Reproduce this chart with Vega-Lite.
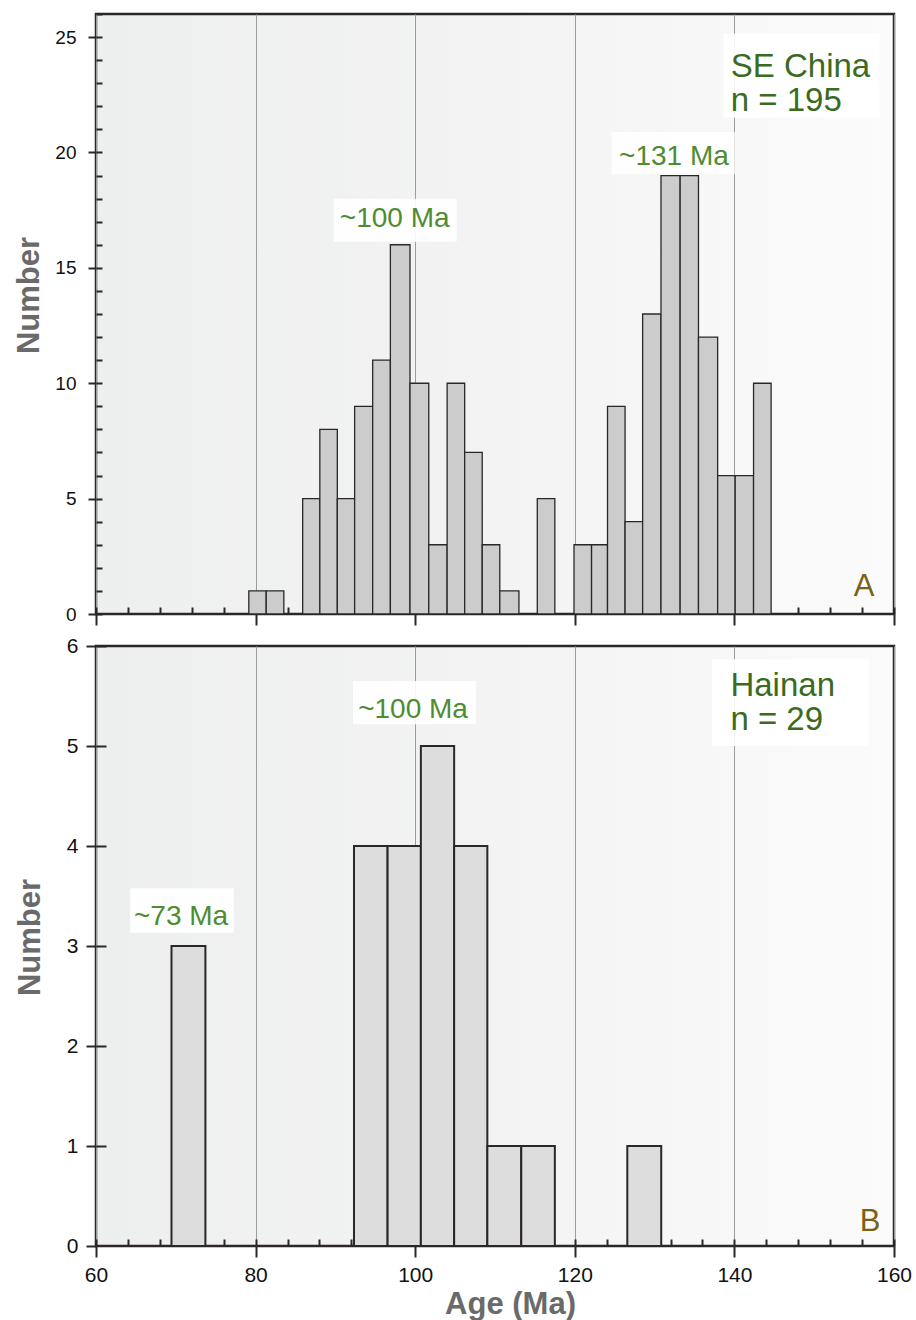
{
  "$schema": "https://vega.github.io/schema/vega-lite/v6.json",
  "background": "white",
  "padding": {"left": 12, "top": 11, "right": 14, "bottom": 2},
  "spacing": 32,
  "bounds": "flush",
  "config": {
    "font": "Liberation Sans",
    "view": {
      "stroke": "#2b2726",
      "strokeWidth": 2.5,
      "fill": {"gradient": "linear", "x1": 0, "y1": 0, "x2": 1, "y2": 0, "stops": [{"offset": 0, "color": "#edefee"}, {"offset": 0.5, "color": "#f3f3f3"}, {"offset": 1, "color": "#fbfbfb"}]}
    },
    "axis": {
      "domain": false,
      "grid": false,
      "tickColor": "#2b2726",
      "tickWidth": 2,
      "labelFlush": false,
      "labelFont": "Liberation Sans",
      "labelColor": "#111111",
      "titleFont": "Liberation Sans",
      "titleColor": "#6a6a6a",
      "titleFontWeight": "bold"
    }
  },
  "datasets": {
    "barsA": [
      {"start": 79.15, "end": 81.33, "count": 1},
      {"start": 81.33, "end": 83.54, "count": 1},
      {"start": 85.9, "end": 88.05, "count": 5},
      {"start": 88.05, "end": 90.24, "count": 8},
      {"start": 90.24, "end": 92.41, "count": 5},
      {"start": 92.41, "end": 94.67, "count": 9},
      {"start": 94.67, "end": 96.89, "count": 11},
      {"start": 96.89, "end": 99.35, "count": 16},
      {"start": 99.35, "end": 101.7, "count": 10},
      {"start": 101.7, "end": 104.0, "count": 3},
      {"start": 104.0, "end": 106.2, "count": 10},
      {"start": 106.2, "end": 108.4, "count": 7},
      {"start": 108.4, "end": 110.6, "count": 3},
      {"start": 110.6, "end": 113.0, "count": 1},
      {"start": 115.3, "end": 117.5, "count": 5},
      {"start": 119.9, "end": 122.1, "count": 3},
      {"start": 122.1, "end": 124.1, "count": 3},
      {"start": 124.1, "end": 126.3, "count": 9},
      {"start": 126.3, "end": 128.5, "count": 4},
      {"start": 128.5, "end": 130.8, "count": 13},
      {"start": 130.8, "end": 133.2, "count": 19},
      {"start": 133.2, "end": 135.5, "count": 19},
      {"start": 135.5, "end": 137.9, "count": 12},
      {"start": 137.9, "end": 140.1, "count": 6},
      {"start": 140.1, "end": 142.4, "count": 6},
      {"start": 142.4, "end": 144.6, "count": 10}
    ],
    "barsB": [
      {"start": 69.46, "end": 73.71, "count": 3},
      {"start": 92.33, "end": 96.54, "count": 4},
      {"start": 96.54, "end": 100.71, "count": 4},
      {"start": 100.71, "end": 104.88, "count": 5},
      {"start": 104.88, "end": 109.04, "count": 4},
      {"start": 109.04, "end": 113.29, "count": 1},
      {"start": 113.29, "end": 117.5, "count": 1},
      {"start": 126.58, "end": 130.83, "count": 1}
    ],
    "boxes": [
      {"panel": "A", "x": 89.77, "x2": 105.2, "y": 16.13, "y2": 17.99},
      {"panel": "A", "x": 124.6, "x2": 140.05, "y": 19.06, "y2": 20.89},
      {"panel": "A", "x": 138.6, "x2": 158.2, "y": 21.5, "y2": 25.15},
      {"panel": "B", "x": 64.29, "x2": 77.29, "y": 3.133, "y2": 3.577},
      {"panel": "B", "x": 92.21, "x2": 107.63, "y": 5.217, "y2": 5.65},
      {"panel": "B", "x": 137.2, "x2": 156.9, "y": 5.0, "y2": 5.867}
    ],
    "texts": [
      {"panel": "A", "kind": "peak", "label": "~100 Ma", "x": 97.43, "y": 16.77},
      {"panel": "A", "kind": "peak", "label": "~131 Ma", "x": 132.43, "y": 19.45},
      {"panel": "A", "kind": "group", "label": "SE China", "x": 139.55, "y": 23.27},
      {"panel": "A", "kind": "group", "label": "n = 195", "x": 139.55, "y": 21.79},
      {"panel": "A", "kind": "letter", "label": "A", "x": 156.24, "y": 0.79},
      {"panel": "B", "kind": "peak", "label": "~73 Ma", "x": 70.66, "y": 3.21},
      {"panel": "B", "kind": "peak", "label": "~100 Ma", "x": 99.73, "y": 5.283},
      {"panel": "B", "kind": "group", "label": "Hainan", "x": 139.5, "y": 5.5},
      {"panel": "B", "kind": "group", "label": "n = 29", "x": 139.5, "y": 5.16},
      {"panel": "B", "kind": "letter", "label": "B", "x": 157.0, "y": 0.153}
    ]
  },
  "vconcat": [
    {
      "width": 798,
      "height": 600,
      "resolve": {"axis": {"x": "independent", "y": "independent"}},
      "layer": [
        {
          "data": {"name": "boxes"},
          "transform": [{"filter": "datum.panel === 'A'"}],
          "mark": {"type": "rect", "fill": "#ffffff", "opacity": 0.9},
          "encoding": {
            "x": {"field": "x", "type": "quantitative", "scale": {"domain": [60, 160], "nice": false, "zero": false},
              "axis": {"orient": "bottom", "values": [60, 80, 100, 120, 140, 160], "tickSize": 11, "labels": false, "title": null, "grid": true, "gridColor": "#9c9c9c", "gridWidth": 1}},
            "x2": {"field": "x2"},
            "y": {"field": "y", "type": "quantitative", "scale": {"domain": [0, 26], "nice": false, "zero": true},
              "axis": {"orient": "left", "values": [0, 5, 10, 15, 20, 25], "tickSize": 8, "labelFontSize": 19, "labelPadding": 12, "title": "Number", "titleFontSize": 31, "titlePadding": 9, "titleY": 281}},
            "y2": {"field": "y2"}
          }
        },
        {
          "data": {"name": "barsA"},
          "mark": {"type": "rect", "fill": "#cbcccb", "stroke": "#2b2726", "strokeWidth": 1.3},
          "encoding": {
            "x": {"field": "start", "type": "quantitative",
              "axis": {"orient": "bottom", "values": [60, 64, 68, 72, 76, 80, 84, 88, 92, 96, 100, 104, 108, 112, 116, 120, 124, 128, 132, 136, 140, 144, 148, 152, 156, 160], "tickSize": -7, "labels": false, "title": null}},
            "x2": {"field": "end"},
            "y": {"field": "count", "type": "quantitative",
              "axis": {"orient": "left", "values": [0, 1, 2, 3, 4, 5, 6, 7, 8, 9, 10, 11, 12, 13, 14, 15, 16, 17, 18, 19, 20, 21, 22, 23, 24, 25, 26], "tickSize": -6, "labels": false, "title": null}},
            "y2": {"datum": 0}
          }
        },
        {
          "data": {"name": "texts"},
          "transform": [{"filter": "datum.panel === 'A' && datum.kind === 'peak'"}],
          "mark": {"type": "text", "align": "center", "baseline": "alphabetic", "fontSize": 28, "color": "#4e8c30"},
          "encoding": {
            "x": {"field": "x", "type": "quantitative", "axis": null},
            "y": {"field": "y", "type": "quantitative", "axis": null},
            "text": {"field": "label"}
          }
        },
        {
          "data": {"name": "texts"},
          "transform": [{"filter": "datum.panel === 'A' && datum.kind === 'group'"}],
          "mark": {"type": "text", "align": "left", "baseline": "alphabetic", "fontSize": 33, "color": "#3b6b22"},
          "encoding": {
            "x": {"field": "x", "type": "quantitative", "axis": null},
            "y": {"field": "y", "type": "quantitative", "axis": null},
            "text": {"field": "label"}
          }
        },
        {
          "data": {"name": "texts"},
          "transform": [{"filter": "datum.panel === 'A' && datum.kind === 'letter'"}],
          "mark": {"type": "text", "align": "center", "baseline": "alphabetic", "fontSize": 31, "color": "#7a6115"},
          "encoding": {
            "x": {"field": "x", "type": "quantitative", "axis": null},
            "y": {"field": "y", "type": "quantitative", "axis": null},
            "text": {"field": "label"}
          }
        }
      ]
    },
    {
      "width": 798,
      "height": 600,
      "resolve": {"axis": {"x": "independent", "y": "independent"}},
      "layer": [
        {
          "data": {"name": "boxes"},
          "transform": [{"filter": "datum.panel === 'B'"}],
          "mark": {"type": "rect", "fill": "#ffffff", "opacity": 0.9},
          "encoding": {
            "x": {"field": "x", "type": "quantitative", "scale": {"domain": [60, 160], "nice": false, "zero": false},
              "axis": {"orient": "bottom", "values": [60, 80, 100, 120, 140, 160], "tickSize": 11, "labelFontSize": 21, "labelPadding": 7, "title": "Age (Ma)", "titleFontSize": 31, "titlePadding": 4, "titleX": 414, "grid": true, "gridColor": "#9c9c9c", "gridWidth": 1}},
            "x2": {"field": "x2"},
            "y": {"field": "y", "type": "quantitative", "scale": {"domain": [0, 6], "nice": false, "zero": true},
              "axis": {"orient": "left", "values": [0, 1, 2, 3, 4, 5, 6], "tickSize": 10, "labelFontSize": 21, "labelPadding": 8, "title": "Number", "titleFontSize": 31, "titlePadding": 20, "titleY": 291}},
            "y2": {"field": "y2"}
          }
        },
        {
          "data": {"name": "barsB"},
          "mark": {"type": "rect", "fill": "#dcdddc", "stroke": "#2b2726", "strokeWidth": 2},
          "encoding": {
            "x": {"field": "start", "type": "quantitative",
              "axis": {"orient": "bottom", "values": [60, 64, 68, 72, 76, 80, 84, 88, 92, 96, 100, 104, 108, 112, 116, 120, 124, 128, 132, 136, 140, 144, 148, 152, 156, 160], "tickSize": -7, "labels": false, "title": null}},
            "x2": {"field": "end"},
            "y": {"field": "count", "type": "quantitative",
              "axis": {"orient": "left", "values": [1, 2, 3, 4, 5, 6], "tickSize": -10, "labels": false, "title": null}},
            "y2": {"datum": 0}
          }
        },
        {
          "data": {"name": "texts"},
          "transform": [{"filter": "datum.panel === 'B' && datum.kind === 'peak'"}],
          "mark": {"type": "text", "align": "center", "baseline": "alphabetic", "fontSize": 28, "color": "#4e8c30"},
          "encoding": {
            "x": {"field": "x", "type": "quantitative", "axis": null},
            "y": {"field": "y", "type": "quantitative", "axis": null},
            "text": {"field": "label"}
          }
        },
        {
          "data": {"name": "texts"},
          "transform": [{"filter": "datum.panel === 'B' && datum.kind === 'group'"}],
          "mark": {"type": "text", "align": "left", "baseline": "alphabetic", "fontSize": 33, "color": "#3b6b22"},
          "encoding": {
            "x": {"field": "x", "type": "quantitative", "axis": null},
            "y": {"field": "y", "type": "quantitative", "axis": null},
            "text": {"field": "label"}
          }
        },
        {
          "data": {"name": "texts"},
          "transform": [{"filter": "datum.panel === 'B' && datum.kind === 'letter'"}],
          "mark": {"type": "text", "align": "center", "baseline": "alphabetic", "fontSize": 31, "color": "#7a6115"},
          "encoding": {
            "x": {"field": "x", "type": "quantitative", "axis": null},
            "y": {"field": "y", "type": "quantitative", "axis": null},
            "text": {"field": "label"}
          }
        }
      ]
    }
  ]
}
